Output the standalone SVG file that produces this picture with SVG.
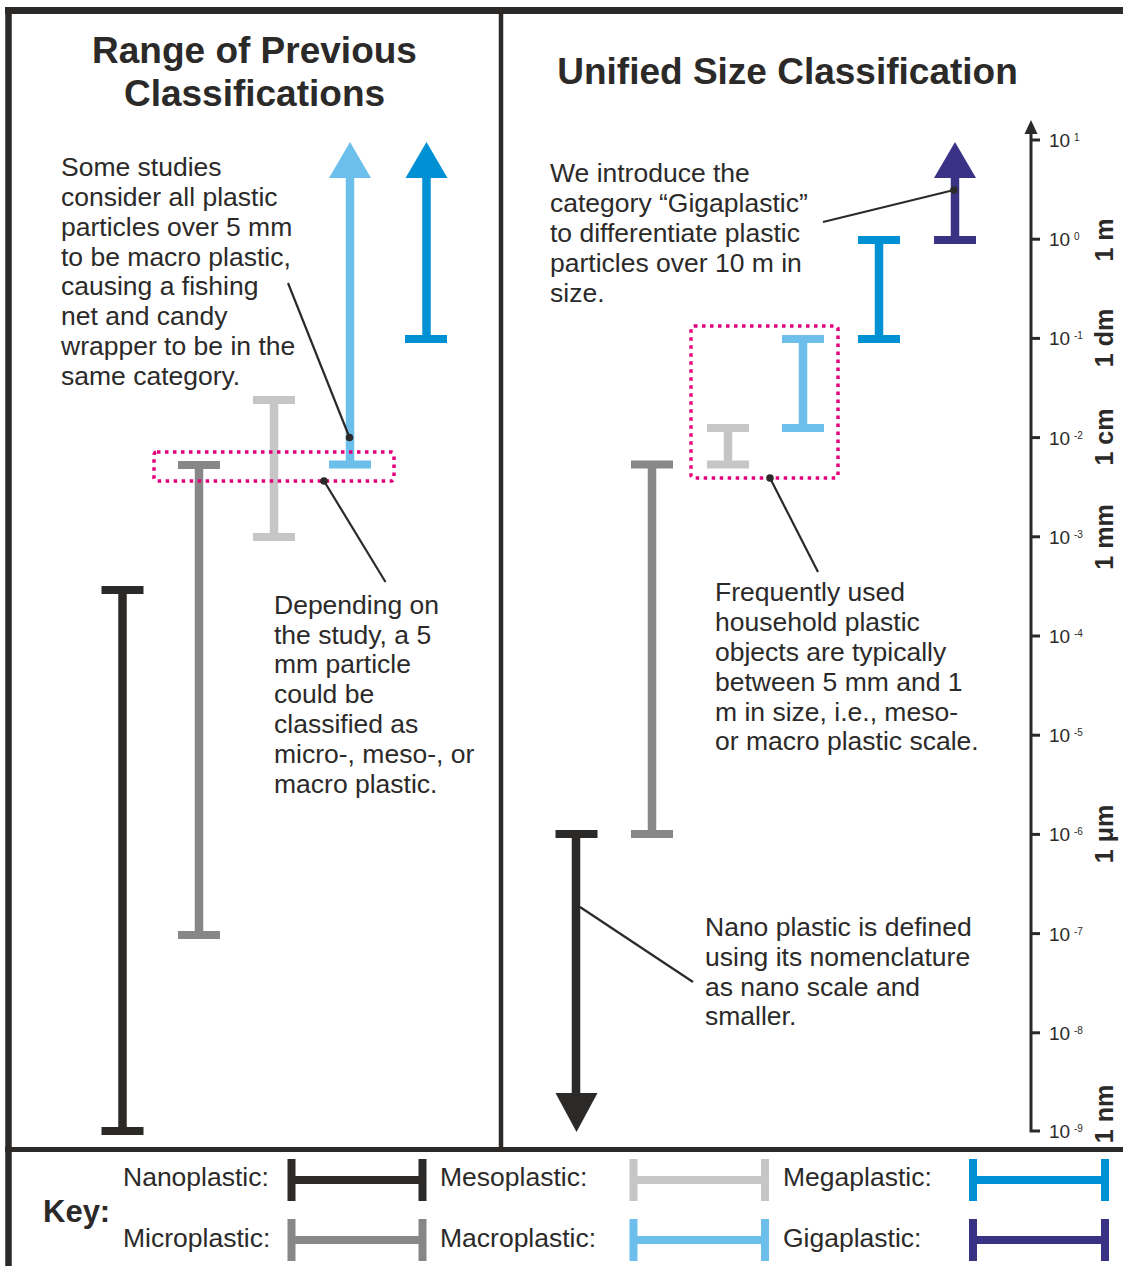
<svg xmlns="http://www.w3.org/2000/svg" width="1123" height="1266" viewBox="0 0 1123 1266">
<style>
text{font-family:"Liberation Sans",Arial,sans-serif;fill:#2b2a29}
.title{font-size:37px;font-weight:bold;text-anchor:middle}
.body{font-size:26.5px}
.tick{font-size:19px}
.sup{font-size:10px}
.unit{font-size:25px;font-weight:bold;text-anchor:middle}
.frame{stroke:#2b2a29;fill:none}
.bar{fill:none;stroke-width:8.5;stroke-linecap:butt}
.cap{fill:none;stroke-width:8;stroke-linecap:butt}
.nano{stroke:#2b2a29}
.micro{stroke:#878787}
.meso{stroke:#c6c6c6}
.macro{stroke:#6cbfeb}
.mega{stroke:#0091d5}
.giga{stroke:#3a3385}
.box{fill:none;stroke:#e5007d;stroke-width:3.5;stroke-dasharray:3.5 4.5}
.conn{stroke:#2b2a29;stroke-width:2.2;fill:none}
.dot{fill:#2b2a29}
</style>
<rect width="1123" height="1266" fill="#ffffff"/>
<g id="frame">
<line class="frame" x1="5" y1="10.5" x2="1123" y2="10.5" stroke-width="7"/>
<line class="frame" x1="8.5" y1="7" x2="8.5" y2="1266" stroke-width="6.5"/>
<line class="frame" x1="501" y1="10" x2="501" y2="1149" stroke-width="4.5"/>
<line class="frame" x1="5" y1="1149.5" x2="1123" y2="1149.5" stroke-width="5"/>
</g>
<g id="titles">
<text class="title" x="254.5" y="63">Range of Previous</text>
<text class="title" x="254.5" y="106">Classifications</text>
<text class="title" x="787.5" y="84">Unified Size Classification</text>
</g>
<g id="axis">
<path class="frame" d="M1031,130 V1131 H1040" stroke-width="3"/>
<polygon points="1031,120 1037.5,134 1024.5,134" fill="#2b2a29"/>
<g class="frame" stroke-width="3">
<line x1="1031" y1="140" x2="1040" y2="140"/>
<line x1="1031" y1="239.2" x2="1040" y2="239.2"/>
<line x1="1031" y1="338.4" x2="1040" y2="338.4"/>
<line x1="1031" y1="437.6" x2="1040" y2="437.6"/>
<line x1="1031" y1="536.8" x2="1040" y2="536.8"/>
<line x1="1031" y1="636" x2="1040" y2="636"/>
<line x1="1031" y1="735.2" x2="1040" y2="735.2"/>
<line x1="1031" y1="834.4" x2="1040" y2="834.4"/>
<line x1="1031" y1="933.6" x2="1040" y2="933.6"/>
<line x1="1031" y1="1032.8" x2="1040" y2="1032.8"/>
</g>
<text class="tick" x="1049" y="147">10</text><text class="sup" x="1074" y="141">1</text>
<text class="tick" x="1049" y="246.2">10</text><text class="sup" x="1074" y="240.2">0</text>
<text class="tick" x="1049" y="345.4">10</text><text class="sup" x="1074" y="339.4">-1</text>
<text class="tick" x="1049" y="444.6">10</text><text class="sup" x="1074" y="438.6">-2</text>
<text class="tick" x="1049" y="543.8">10</text><text class="sup" x="1074" y="537.8">-3</text>
<text class="tick" x="1049" y="643">10</text><text class="sup" x="1074" y="637">-4</text>
<text class="tick" x="1049" y="742.2">10</text><text class="sup" x="1074" y="736.2">-5</text>
<text class="tick" x="1049" y="841.4">10</text><text class="sup" x="1074" y="835.4">-6</text>
<text class="tick" x="1049" y="940.6">10</text><text class="sup" x="1074" y="934.6">-7</text>
<text class="tick" x="1049" y="1039.8">10</text><text class="sup" x="1074" y="1033.8">-8</text>
<text class="tick" x="1049" y="1138">10</text><text class="sup" x="1074" y="1132">-9</text>
<text class="unit" x="1113" y="240" transform="rotate(-90 1113 240)">1 m</text>
<text class="unit" x="1113" y="338" transform="rotate(-90 1113 338)">1 dm</text>
<text class="unit" x="1113" y="437" transform="rotate(-90 1113 437)">1 cm</text>
<text class="unit" x="1113" y="537" transform="rotate(-90 1113 537)">1 mm</text>
<text class="unit" x="1113" y="834" transform="rotate(-90 1113 834)">1 μm</text>
<text class="unit" x="1113" y="1114" transform="rotate(-90 1113 1114)">1 nm</text>
</g>
<g id="left-nano">
<line class="bar nano" x1="122.5" y1="590" x2="122.5" y2="1131"/>
<line class="cap nano" x1="101.5" y1="590" x2="143.5" y2="590"/>
<line class="cap nano" x1="101.5" y1="1131" x2="143.5" y2="1131"/>
</g>
<g id="left-micro">
<line class="bar micro" x1="199" y1="465" x2="199" y2="935"/>
<line class="cap micro" x1="178" y1="465" x2="220" y2="465"/>
<line class="cap micro" x1="178" y1="935" x2="220" y2="935"/>
</g>
<g id="left-meso">
<line class="bar meso" x1="274" y1="400" x2="274" y2="537"/>
<line class="cap meso" x1="253" y1="400" x2="295" y2="400"/>
<line class="cap meso" x1="253" y1="537" x2="295" y2="537"/>
</g>
<g id="left-macro">
<line class="bar macro" x1="350" y1="175" x2="350" y2="464.5"/>
<line class="cap macro" x1="329" y1="464.5" x2="371" y2="464.5"/>
<polygon points="350,142 371,178 329,178" fill="#6cbfeb"/>
</g>
<g id="left-mega">
<line class="bar mega" x1="426.5" y1="175" x2="426.5" y2="339"/>
<line class="cap mega" x1="405" y1="339" x2="447" y2="339"/>
<polygon points="426.5,142 447.5,178 405.5,178" fill="#0091d5"/>
</g>
<g id="left-box"><rect class="box" x="154" y="452" width="240" height="29" rx="3"/></g>
<g id="right-nano">
<line class="bar nano" x1="576" y1="834" x2="576" y2="1096"/>
<line class="cap nano" x1="555.5" y1="834" x2="597.5" y2="834"/>
<polygon points="555.5,1093 597.5,1093 576.5,1132" fill="#2b2a29"/>
</g>
<g id="right-micro">
<line class="bar micro" x1="652" y1="464.5" x2="652" y2="834"/>
<line class="cap micro" x1="631" y1="464.5" x2="673" y2="464.5"/>
<line class="cap micro" x1="631" y1="834" x2="673" y2="834"/>
</g>
<g id="right-meso">
<line class="bar meso" x1="728" y1="428" x2="728" y2="464.5"/>
<line class="cap meso" x1="707" y1="428" x2="749" y2="428"/>
<line class="cap meso" x1="707" y1="464.5" x2="749" y2="464.5"/>
</g>
<g id="right-macro">
<line class="bar macro" x1="803" y1="339" x2="803" y2="428"/>
<line class="cap macro" x1="782" y1="339" x2="824" y2="339"/>
<line class="cap macro" x1="782" y1="428" x2="824" y2="428"/>
</g>
<g id="right-mega">
<line class="bar mega" x1="879" y1="240" x2="879" y2="339"/>
<line class="cap mega" x1="858" y1="240" x2="900" y2="240"/>
<line class="cap mega" x1="858" y1="339" x2="900" y2="339"/>
</g>
<g id="right-giga">
<line class="bar giga" x1="955" y1="175" x2="955" y2="240"/>
<line class="cap giga" x1="934" y1="240" x2="976" y2="240"/>
<polygon points="955,142 976,178 934,178" fill="#3a3385"/>
</g>
<g id="right-box"><rect class="box" x="691" y="326" width="147" height="152" rx="3"/></g>
<g id="connectors">
<line class="conn" x1="288" y1="283" x2="349.5" y2="437.5"/>
<circle class="dot" cx="349.5" cy="437.5" r="3.8"/>
<line class="conn" x1="324" y1="481" x2="385.5" y2="582"/>
<circle class="dot" cx="324" cy="481" r="3.8"/>
<line class="conn" x1="823" y1="222" x2="954" y2="190"/>
<circle class="dot" cx="954" cy="190" r="3.8"/>
<line class="conn" x1="770" y1="478" x2="818" y2="572"/>
<circle class="dot" cx="770" cy="478" r="3.8"/>
<line class="conn" x1="580" y1="907" x2="693" y2="982"/>
</g>
<g id="note-left-top">
<text class="body" x="61" y="176">Some studies</text>
<text class="body" x="61" y="206">consider all plastic</text>
<text class="body" x="61" y="236">particles over 5 mm</text>
<text class="body" x="61" y="266">to be macro plastic,</text>
<text class="body" x="61" y="295">causing a fishing</text>
<text class="body" x="61" y="325">net and candy</text>
<text class="body" x="61" y="355">wrapper to be in the</text>
<text class="body" x="61" y="385">same category.</text>
</g>
<g id="note-left-bottom">
<text class="body" x="274" y="614">Depending on</text>
<text class="body" x="274" y="644">the study, a 5</text>
<text class="body" x="274" y="673">mm particle</text>
<text class="body" x="274" y="703">could be</text>
<text class="body" x="274" y="733">classified as</text>
<text class="body" x="274" y="763">micro-, meso-, or</text>
<text class="body" x="274" y="793">macro plastic.</text>
</g>
<g id="note-right-top">
<text class="body" x="550" y="182">We introduce the</text>
<text class="body" x="550" y="212">category “Gigaplastic”</text>
<text class="body" x="550" y="242">to differentiate plastic</text>
<text class="body" x="550" y="272">particles over 10 m in</text>
<text class="body" x="550" y="302">size.</text>
</g>
<g id="note-right-middle">
<text class="body" x="715" y="601">Frequently used</text>
<text class="body" x="715" y="631">household plastic</text>
<text class="body" x="715" y="661">objects are typically</text>
<text class="body" x="715" y="691">between 5 mm and 1</text>
<text class="body" x="715" y="721">m in size, i.e., meso-</text>
<text class="body" x="715" y="750">or macro plastic scale.</text>
</g>
<g id="note-right-bottom">
<text class="body" x="705" y="936">Nano plastic is defined</text>
<text class="body" x="705" y="966">using its nomenclature</text>
<text class="body" x="705" y="996">as nano scale and</text>
<text class="body" x="705" y="1025">smaller.</text>
</g>
<g id="key">
<text x="43" y="1222" style="font-size:31px;font-weight:bold">Key:</text>
<text class="body" x="123" y="1186">Nanoplastic:</text>
<text class="body" x="123" y="1247">Microplastic:</text>
<text class="body" x="440" y="1186">Mesoplastic:</text>
<text class="body" x="440" y="1247">Macroplastic:</text>
<text class="body" x="783" y="1186">Megaplastic:</text>
<text class="body" x="783" y="1247">Gigaplastic:</text>
<path class="cap nano" d="M291.5,1159 V1201 M291.5,1180 H422.5 M422.5,1159 V1201"/>
<path class="cap micro" d="M291.5,1219 V1261 M291.5,1240 H422.5 M422.5,1219 V1261"/>
<path class="cap meso" d="M633.5,1159 V1201 M633.5,1180 H765 M765,1159 V1201"/>
<path class="cap macro" d="M633.5,1219 V1261 M633.5,1240 H765 M765,1219 V1261"/>
<path class="cap mega" d="M973,1159 V1201 M973,1180 H1105 M1105,1159 V1201"/>
<path class="cap giga" d="M973,1219 V1261 M973,1240 H1105 M1105,1219 V1261"/>
</g>
</svg>
